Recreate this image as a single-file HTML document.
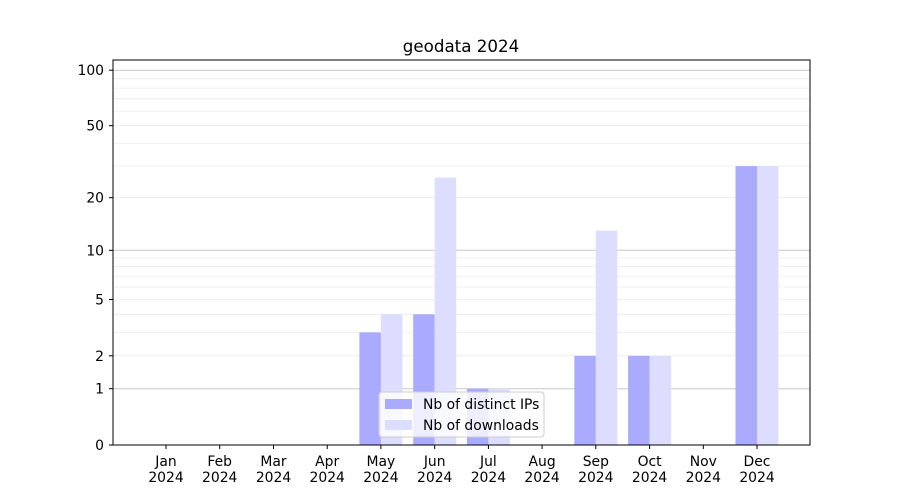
<!DOCTYPE html>
<html><head><style>body{margin:0;background:#fff}svg{display:block}text{font-family:"DejaVu Sans","Liberation Sans",sans-serif;font-size:13.9px;fill:#000}</style></head>
<body>
<svg width="900" height="500" xmlns="http://www.w3.org/2000/svg">
<g stroke="#ebebeb" stroke-width="0.8">
<line x1="113" x2="810" y1="355.8" y2="355.8"/><line x1="113" x2="810" y1="332.4" y2="332.4"/>
<line x1="113" x2="810" y1="314.3" y2="314.3"/><line x1="113" x2="810" y1="299.5" y2="299.5"/>
<line x1="113" x2="810" y1="287" y2="287"/><line x1="113" x2="810" y1="276.1" y2="276.1"/>
<line x1="113" x2="810" y1="266.6" y2="266.6"/><line x1="113" x2="810" y1="258" y2="258"/>
<line x1="113" x2="810" y1="197.7" y2="197.7"/><line x1="113" x2="810" y1="166.1" y2="166.1"/>
<line x1="113" x2="810" y1="143.4" y2="143.4"/><line x1="113" x2="810" y1="125.7" y2="125.7"/>
<line x1="113" x2="810" y1="111.1" y2="111.1"/><line x1="113" x2="810" y1="98.8" y2="98.8"/>
<line x1="113" x2="810" y1="88.1" y2="88.1"/><line x1="113" x2="810" y1="78.7" y2="78.7"/>
</g>
<g stroke="#c8c8c8" stroke-width="1">
<line x1="113" x2="810" y1="388.7" y2="388.7"/><line x1="113" x2="810" y1="250.3" y2="250.3"/><line x1="113" x2="810" y1="70.2" y2="70.2"/>
</g>
<g>
<rect x="359.4" y="332.4" width="21.5" height="112.6" fill="#aaaaff"/>
<rect x="380.9" y="314.3" width="21.5" height="130.7" fill="#ddddff"/>
<rect x="413.2" y="314.3" width="21.5" height="130.7" fill="#aaaaff"/>
<rect x="434.7" y="177.5" width="21.5" height="267.5" fill="#ddddff"/>
<rect x="466.9" y="388.7" width="21.5" height="56.3" fill="#aaaaff"/>
<rect x="488.4" y="388.7" width="21.5" height="56.3" fill="#ddddff"/>
<rect x="574.3" y="355.8" width="21.5" height="89.2" fill="#aaaaff"/>
<rect x="595.8" y="230.7" width="21.5" height="214.3" fill="#ddddff"/>
<rect x="628.1" y="355.8" width="21.5" height="89.2" fill="#aaaaff"/>
<rect x="649.6" y="355.8" width="21.5" height="89.2" fill="#ddddff"/>
<rect x="735.5" y="166.1" width="21.5" height="278.9" fill="#aaaaff"/>
<rect x="757" y="166.1" width="21.5" height="278.9" fill="#ddddff"/>
</g>
<rect x="113" y="60" width="697" height="385" fill="none" stroke="#000" stroke-width="1"/>
<g stroke="#000">
<line x1="109" x2="113" y1="445" y2="445"/><line x1="109" x2="113" y1="388.7" y2="388.7"/>
<line x1="109" x2="113" y1="355.8" y2="355.8"/><line x1="109" x2="113" y1="299.5" y2="299.5"/>
<line x1="109" x2="113" y1="250.3" y2="250.3"/><line x1="109" x2="113" y1="197.7" y2="197.7"/>
<line x1="109" x2="113" y1="125.7" y2="125.7"/><line x1="109" x2="113" y1="70.2" y2="70.2"/>
<line x1="166" x2="166" y1="445" y2="449"/><line x1="219.7" x2="219.7" y1="445" y2="449"/>
<line x1="273.5" x2="273.5" y1="445" y2="449"/><line x1="327.2" x2="327.2" y1="445" y2="449"/>
<line x1="380.9" x2="380.9" y1="445" y2="449"/><line x1="434.7" x2="434.7" y1="445" y2="449"/>
<line x1="488.4" x2="488.4" y1="445" y2="449"/><line x1="542.1" x2="542.1" y1="445" y2="449"/>
<line x1="595.8" x2="595.8" y1="445" y2="449"/><line x1="649.6" x2="649.6" y1="445" y2="449"/>
<line x1="703.3" x2="703.3" y1="445" y2="449"/><line x1="757" x2="757" y1="445" y2="449"/>
</g>
<g text-anchor="end">
<text x="104" y="450">0</text><text x="104" y="393.7">1</text><text x="104" y="360.8">2</text>
<text x="104" y="304.5">5</text><text x="104" y="255.3">10</text><text x="104" y="202.7">20</text>
<text x="104" y="130.7">50</text><text x="104" y="75.2">100</text>
</g>
<g text-anchor="middle">
<text x="166" y="466">Jan</text><text x="219.7" y="466">Feb</text><text x="273.5" y="466">Mar</text>
<text x="327.2" y="466">Apr</text><text x="380.9" y="466">May</text><text x="434.7" y="466">Jun</text>
<text x="488.4" y="466">Jul</text><text x="542.1" y="466">Aug</text><text x="595.8" y="466">Sep</text>
<text x="649.6" y="466">Oct</text><text x="703.3" y="466">Nov</text><text x="757" y="466">Dec</text>
<text x="166" y="482">2024</text><text x="219.7" y="482">2024</text><text x="273.5" y="482">2024</text>
<text x="327.2" y="482">2024</text><text x="380.9" y="482">2024</text><text x="434.7" y="482">2024</text>
<text x="488.4" y="482">2024</text><text x="542.1" y="482">2024</text><text x="595.8" y="482">2024</text>
<text x="649.6" y="482">2024</text><text x="703.3" y="482">2024</text><text x="757" y="482">2024</text>
</g>
<text x="461" y="52" text-anchor="middle" style="font-size:16.7px">geodata 2024</text>
<g>
<rect x="379" y="392" width="165" height="45" rx="3" fill="#fff" fill-opacity="0.8" stroke="#ccc"/>
<rect x="385" y="399" width="27" height="10" fill="#aaaaff"/>
<text x="423" y="409">Nb of distinct IPs</text>
<rect x="385" y="420" width="27" height="10" fill="#ddddff"/>
<text x="423" y="430">Nb of downloads</text>
</g>
</svg>
</body></html>
